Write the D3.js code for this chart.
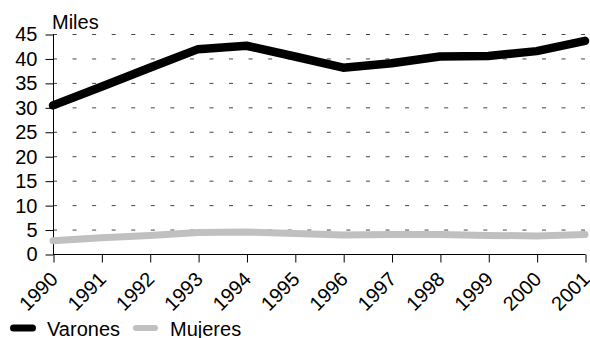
<!DOCTYPE html>
<html>
<head>
<meta charset="utf-8">
<script src="https://cdn.jsdelivr.net/npm/d3@7"></script>
<style>
  body { margin: 0; background: #fff; }
  svg { font-family: "Liberation Sans", Arial, sans-serif; }
</style>
</head>
<body>
<div id="chart"></div>
<script>
// data (miles)
var years = ["1990","1991","1992","1993","1994","1995","1996","1997","1998","1999","2000","2001"];
var varones = [30.4, 34.2, 38.1, 41.9, 42.6, 40.4, 38.1, 39.0, 40.4, 40.5, 41.5, 43.6];
var mujeres = [2.7, 3.3, 3.8, 4.4, 4.5, 4.2, 3.9, 4.0, 4.0, 3.8, 3.7, 4.0];
var yTicks = [0, 5, 10, 15, 20, 25, 30, 35, 40, 45];

var series = [
    {name: "Varones", values: varones, color: "#000000", width: 8.5},
    {name: "Mujeres", values: mujeres, color: "#c0c0c0", width: 7}
];

var W = 590, H = 338;
var margin = {left: 53, right: 5, top: 34, bottom: 84};

var svg = d3.select("#chart").append("svg")
    .attr("width", W)
    .attr("height", H);

var x = d3.scalePoint()
    .domain(years)
    .range([margin.left, W - margin.right]);

var y = d3.scaleLinear()
    .domain([0, 45])
    .range([H - margin.bottom, margin.top]);

// dashed grid
svg.append("g")
    .selectAll("line")
    .data(yTicks)
    .enter()
    .append("line")
    .attr("x1", x.range()[0])
    .attr("x2", x.range()[1])
    .attr("y1", d => y(d) + 0.5)
    .attr("y2", d => y(d) + 0.5)
    .attr("stroke", "#444")
    .attr("stroke-width", 1)
    .attr("stroke-dasharray", "4,15.56");

// y axis
var yAxis = svg.append("g")
    .attr("transform", "translate(" + (margin.left + 0.5) + ",0.5)")
    .call(d3.axisLeft(y).tickValues(yTicks).tickSize(8).tickPadding(8));
yAxis.select(".domain").attr("d", "M0," + y(0) + "V" + y(45));

// x axis
var xAxis = svg.append("g")
    .attr("transform", "translate(0.5," + (y(0) + 0.5) + ")")
    .call(d3.axisBottom(x).tickSize(8).tickSizeOuter(0));
xAxis.select(".domain").attr("d", "M" + x.range()[0] + ",0H" + x.range()[1]);

svg.selectAll(".tick text")
    .attr("font-size", "20px")
    .attr("fill", "#000")
    .attr("font-family", "Liberation Sans, Arial, sans-serif");
svg.selectAll(".tick line, .domain").attr("stroke", "#000");

xAxis.selectAll(".tick text")
    .attr("text-anchor", "end")
    .attr("x", 0)
    .attr("y", 0)
    .attr("dy", "0")
    .attr("transform", "translate(5,26) rotate(-45)");

svg.append("text")
    .attr("x", margin.left - 1)
    .attr("y", 29)
    .attr("font-size", "20px")
    .text("Miles");

// lines
var line = d3.line()
    .x((d, i) => x(years[i]))
    .y(d => y(d));

svg.append("g")
    .selectAll("path")
    .data(series.slice().reverse())
    .enter()
    .append("path")
    .attr("d", d => line(d.values))
    .attr("fill", "none")
    .attr("stroke", d => d.color)
    .attr("stroke-width", d => d.width)
    .attr("stroke-linecap", "round")
    .attr("stroke-linejoin", "round");

// legend
var legendPos = [{sx: 13.5, tx: 47, len: 19}, {sx: 136, tx: 170, len: 19}];
var legend = svg.append("g")
    .selectAll("g")
    .data(series)
    .enter()
    .append("g");

legend.append("line")
    .attr("x1", (d, i) => legendPos[i].sx)
    .attr("x2", (d, i) => legendPos[i].sx + legendPos[i].len)
    .attr("y1", 328)
    .attr("y2", 328)
    .attr("stroke", d => d.color)
    .attr("stroke-width", (d, i) => i === 0 ? 7 : 6)
    .attr("stroke-linecap", "round");

legend.append("text")
    .attr("x", (d, i) => legendPos[i].tx)
    .attr("y", 335.5)
    .attr("font-size", "20px")
    .text(d => d.name);
</script>
</body>
</html>
